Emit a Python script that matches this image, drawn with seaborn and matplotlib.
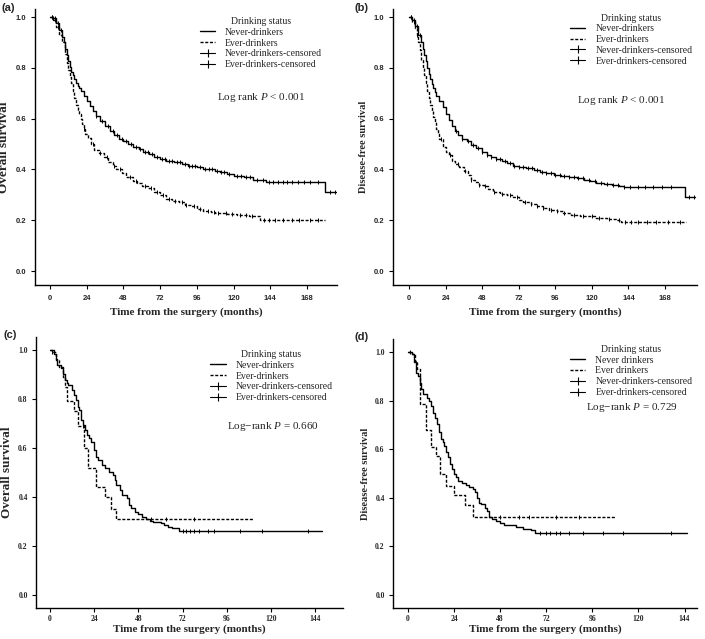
import numpy as np
import matplotlib
matplotlib.use("Agg")
import matplotlib.pyplot as plt
from matplotlib.lines import Line2D
import seaborn as sns

# ---- data (months, survival probability) ----
a_never_t = [0, 2, 4, 6, 8, 9, 10, 11, 12, 13, 14, 15, 16, 17, 18, 19, 20, 22, 24, 26, 28, 30, 33, 36, 39,
             42, 45, 48, 51, 54, 58, 61, 65, 68, 72, 76, 81, 86, 90, 96, 100, 103, 108, 111, 116, 120, 127,
             133, 141, 180, 187]
a_never_s = [1.0, 0.995, 0.975, 0.95, 0.92, 0.90, 0.875, 0.85, 0.825, 0.805, 0.785, 0.77, 0.755, 0.74, 0.73,
             0.72, 0.71, 0.69, 0.67, 0.65, 0.63, 0.61, 0.59, 0.57, 0.55, 0.535, 0.52, 0.51, 0.50, 0.49, 0.48,
             0.47, 0.46, 0.45, 0.44, 0.435, 0.43, 0.42, 0.415, 0.408, 0.403, 0.40, 0.395, 0.39, 0.382, 0.374,
             0.37, 0.36, 0.35, 0.31, 0.31]
a_ever_t = [0, 2, 4, 6, 8, 10, 11, 12, 13, 14, 15, 16, 17, 18, 19, 20, 21, 22, 23, 25, 27, 29, 32, 35, 38,
            41, 43, 47, 50, 54, 57, 60, 64, 68, 72, 76, 80, 84, 88, 92, 96, 100, 105, 108, 116, 122, 130, 137,
            180]
a_ever_s = [1.0, 0.99, 0.96, 0.93, 0.90, 0.855, 0.82, 0.79, 0.765, 0.74, 0.71, 0.68, 0.655, 0.635, 0.62,
            0.60, 0.58, 0.56, 0.54, 0.525, 0.50, 0.476, 0.465, 0.45, 0.43, 0.415, 0.40, 0.385, 0.372, 0.355,
            0.345, 0.335, 0.325, 0.312, 0.30, 0.285, 0.275, 0.27, 0.26, 0.255, 0.246, 0.237, 0.232, 0.227,
            0.225, 0.22, 0.216, 0.20, 0.20]
a_never_cens = [1, 2, 3, 5, 7, 30, 34, 38, 41, 44, 47, 50, 53, 56, 59, 62, 64, 67, 70, 73, 75, 78, 80, 83,
                85, 88, 91, 93, 95, 98, 101, 104, 106, 109, 112, 114, 117, 122, 125, 128, 131, 135, 139, 143,
                146, 149, 152, 155, 158, 162, 166, 170, 175, 183, 186]
a_ever_cens = [1, 3, 5, 22, 28, 33, 37, 42, 46, 52, 56, 62, 66, 70, 74, 78, 82, 86, 89, 94, 98, 103, 107,
               110, 115, 119, 124, 128, 132, 140, 143, 147, 152, 158, 163, 170, 175]

b_never_t = [0, 2, 4, 6, 8, 9, 10, 11, 12, 13, 14, 15, 16, 17, 18, 20, 22, 24, 26, 28, 30, 32, 35, 38, 41,
             44, 48, 51, 54, 57, 61, 64, 68, 72, 77, 82, 86, 90, 95, 100, 105, 110, 115, 119, 123, 128, 133,
             138, 141, 181, 188]
b_never_s = [1.0, 0.99, 0.965, 0.93, 0.90, 0.875, 0.85, 0.825, 0.80, 0.775, 0.755, 0.735, 0.72, 0.705, 0.69,
             0.67, 0.645, 0.62, 0.595, 0.57, 0.55, 0.535, 0.52, 0.51, 0.495, 0.483, 0.468, 0.457, 0.45, 0.44,
             0.432, 0.424, 0.415, 0.41, 0.404, 0.397, 0.39, 0.385, 0.378, 0.375, 0.37, 0.365, 0.36, 0.355,
             0.347, 0.344, 0.34, 0.335, 0.33, 0.29, 0.29]
b_ever_t = [0, 2, 4, 5, 6, 7, 8, 9, 10, 11, 12, 13, 14, 15, 16, 17, 18, 19, 20, 22, 24, 26, 28, 30, 33, 36,
            39, 41, 43, 46, 49, 52, 55, 60, 64, 68, 72, 75, 80, 84, 88, 92, 97, 101, 106, 112, 118, 122, 130,
            136, 139, 182]
b_ever_s = [1.0, 0.98, 0.955, 0.93, 0.90, 0.87, 0.83, 0.80, 0.77, 0.74, 0.71, 0.68, 0.655, 0.63, 0.605,
            0.585, 0.56, 0.54, 0.52, 0.49, 0.47, 0.455, 0.435, 0.42, 0.41, 0.395, 0.38, 0.36, 0.35, 0.34,
            0.335, 0.322, 0.31, 0.302, 0.298, 0.29, 0.28, 0.272, 0.262, 0.255, 0.25, 0.242, 0.235, 0.227,
            0.22, 0.218, 0.215, 0.208, 0.205, 0.20, 0.193, 0.193]
b_never_cens = [1, 2, 3, 5, 7, 31, 35, 39, 42, 45, 48, 51, 54, 57, 60, 63, 66, 69, 72, 75, 78, 81, 84, 87,
                90, 93, 96, 99, 102, 105, 108, 111, 114, 118, 122, 126, 130, 134, 137, 141, 145, 150, 155,
                160, 166, 172, 184, 187]
b_ever_cens = [1, 3, 5, 21, 27, 32, 37, 41, 46, 50, 56, 61, 66, 71, 76, 80, 84, 88, 93, 97, 102, 108, 114,
               120, 125, 131, 138, 142, 146, 150, 156, 162, 170, 178]

c_never_t = [0, 2, 3, 4, 6, 7, 8, 9, 10, 12, 13, 14, 15, 16, 17, 18, 19, 20, 21, 22, 24, 25, 26, 28, 30,
             32, 34, 35, 36, 38, 39, 42, 43, 44, 46, 48, 50, 52, 54, 56, 60, 62, 64, 66, 70, 147.5]
c_never_s = [1.0, 0.985, 0.965, 0.94, 0.925, 0.90, 0.877, 0.867, 0.857, 0.837, 0.816, 0.796, 0.769, 0.755,
             0.714, 0.694, 0.673, 0.653, 0.64, 0.626, 0.592, 0.565, 0.55, 0.53, 0.517, 0.503, 0.49, 0.469,
             0.449, 0.43, 0.408, 0.395, 0.367, 0.354, 0.34, 0.33, 0.32, 0.309, 0.303, 0.298, 0.293, 0.285,
             0.279, 0.272, 0.263, 0.263]
c_ever_t = [0, 1, 3, 5, 7, 8, 9, 13, 15, 18.5, 20.5, 25, 30, 33, 36, 110]
c_ever_s = [1.0, 0.99, 0.96, 0.93, 0.89, 0.85, 0.79, 0.75, 0.69, 0.60, 0.52, 0.44, 0.40, 0.35, 0.31, 0.31]
c_never_cens = [72, 74, 76, 78, 81, 86, 89, 103, 115, 140]
c_ever_cens = [1, 18, 55, 63, 78]

d_never_t = [0, 2, 3, 4, 5, 6, 7, 8, 10, 11, 12, 13, 14, 15, 16, 17, 18, 19, 20, 21, 22, 23, 24, 25, 26,
             28, 30, 32, 34, 35, 36, 37, 38, 40, 41, 42, 44, 46, 48, 50, 56, 60, 64, 66, 145.5]
d_never_s = [1.0, 0.99, 0.96, 0.914, 0.90, 0.873, 0.846, 0.825, 0.81, 0.80, 0.778, 0.75, 0.73, 0.703, 0.67,
             0.64, 0.628, 0.614, 0.587, 0.566, 0.539, 0.518, 0.498, 0.484, 0.47, 0.46, 0.454, 0.446, 0.437,
             0.423, 0.40, 0.38, 0.375, 0.36, 0.344, 0.323, 0.314, 0.304, 0.296, 0.289, 0.28, 0.273, 0.266,
             0.256, 0.256]
d_ever_t = [0, 2, 3.5, 4.9, 6.4, 9.2, 11.8, 14.4, 16.8, 20, 24, 29.5, 33.8, 107.6]
d_ever_s = [1.0, 0.99, 0.964, 0.93, 0.785, 0.68, 0.607, 0.57, 0.50, 0.45, 0.41, 0.37, 0.32, 0.32]
d_never_cens = [69, 72, 74, 77, 79, 84, 91, 101.5, 112, 137]
d_ever_cens = [1, 48, 58, 63, 77, 89]

panels = [
    dict(tag="(a)", never=(a_never_t, a_never_s, a_never_cens), ever=(a_ever_t, a_ever_s, a_ever_cens),
         ylabel="Overall survival", ysize=9.5, xmax=168, xlim=(-9.8, 187.6), ylim=(-0.055, 1.03),
         pos=[35, 9.4, 337, 285], labels=["Never-drinkers", "Ever-drinkers"], leg=(0.546, 0.972),
         pval="Log rank", pnum=" < 0.001", ptxt=(0.603, 0.682), tickfont="Liberation Sans", pads=(4, 4)),
    dict(tag="(b)", never=(b_never_t, b_never_s, b_never_cens), ever=(b_ever_t, b_ever_s, b_ever_cens),
         ylabel="Disease-free survival", ysize=7.5, xmax=168, xlim=(-10.5, 189), ylim=(-0.055, 1.03),
         pos=[393, 9.4, 697, 285], labels=["Never-drinkers", "Ever-drinkers"], leg=(0.582, 0.985),
         pval="Log rank", pnum=" < 0.001", ptxt=(0.605, 0.671), tickfont="Liberation Sans", pads=(4, 4)),
    dict(tag="(c)", never=(c_never_t, c_never_s, c_never_cens), ever=(c_ever_t, c_ever_s, c_ever_cens),
         ylabel="Overall survival", ysize=9.5, xmax=144, xlim=(-7.6, 159), ylim=(-0.053, 1.053),
         pos=[36, 337, 343, 608], labels=["Never-drinkers", "Ever-drinkers"], leg=(0.567, 0.952),
         pval="Log\u2212rank", pnum=" = 0.660", ptxt=(0.622, 0.668), tickfont="Liberation Serif", pads=(2, 1)),
    dict(tag="(d)", never=(d_never_t, d_never_s, d_never_cens), ever=(d_ever_t, d_ever_s, d_ever_cens),
         ylabel="Disease-free survival", ysize=7.5, xmax=144, xlim=(-7.8, 150.5), ylim=(-0.053, 1.053),
         pos=[393, 339, 697, 608], labels=["Never drinkers", "Ever drinkers"], leg=(0.582, 0.978),
         pval="Log\u2212rank", pnum=" = 0.729", ptxt=(0.635, 0.747), tickfont="Liberation Serif", pads=(2, 1)),
]

W, H = 705, 639
sns.set_style("ticks")
plt.rcParams["font.family"] = ["Liberation Serif", "DejaVu Serif"]
plt.rcParams["mathtext.fontset"] = "custom"
plt.rcParams["mathtext.it"] = "Liberation Serif:italic"
plt.rcParams["mathtext.rm"] = "Liberation Serif"

fig = plt.figure(figsize=(W / 100, H / 100), dpi=100)
fig.patch.set_facecolor("white")

SERIF = "Liberation Serif"
dash = (0, (2.2, 1.2))


def step_value(t, s, x):
    i = np.searchsorted(t, x, side="right") - 1
    return np.asarray(s)[i]


for p in panels:
    x0, y0, x1, y1 = p["pos"]
    ax = fig.add_axes([x0 / W, 1 - y1 / H, (x1 - x0) / W, (y1 - y0) / H])
    ax.set_facecolor("white")

    for key, ls in (("never", "-"), ("ever", dash)):
        t, s, cens = p[key]
        sns.lineplot(x=t, y=s, ax=ax, color="black", linewidth=1.0, linestyle=ls,
                     drawstyle="steps-post", estimator=None, sort=False)
        cy = step_value(np.asarray(t), s, np.asarray(cens))
        sns.scatterplot(x=cens, y=cy, ax=ax, marker="|", s=11, color="black", linewidth=0.7, zorder=3)

    ax.set_xlim(*p["xlim"])
    ax.set_ylim(*p["ylim"])
    ax.set_xticks(np.arange(0, p["xmax"] + 1, 24))
    ax.set_yticks([0.0, 0.2, 0.4, 0.6, 0.8, 1.0])
    ax.set_yticklabels(["0.0", "0.2", "0.4", "0.6", "0.8", "1.0"])
    for lab in ax.get_xticklabels() + ax.get_yticklabels():
        lab.set_fontfamily(p["tickfont"])
        lab.set_fontweight("bold")
        lab.set_fontsize(5.5)
    ax.tick_params(direction="out", length=3, width=0.8, color="black")
    ax.tick_params(axis="x", pad=p["pads"][0])
    ax.tick_params(axis="y", pad=3)
    sns.despine(ax=ax)
    for side in ("left", "bottom"):
        ax.spines[side].set_linewidth(1.0)
        ax.spines[side].set_color("black")

    ax.set_xlabel("Time from the surgery (months)", fontfamily=SERIF, fontweight="bold",
                  fontsize=8, labelpad=p["pads"][1])
    ax.set_ylabel(p["ylabel"], fontfamily=SERIF, fontweight="bold", fontsize=p["ysize"], labelpad=4)

    handles = [
        Line2D([], [], color="black", lw=1.0, ls="-"),
        Line2D([], [], color="black", lw=1.0, ls=dash),
        Line2D([], [], color="black", lw=0.8, ls="-", marker="|", markersize=6, markeredgewidth=0.8),
        Line2D([], [], color="black", lw=0.8, ls="-", marker="|", markersize=6, markeredgewidth=0.8),
    ]
    labels = p["labels"] + ["Never-drinkers-censored", "Ever-drinkers-censored"]
    leg = ax.legend(handles, labels, title="Drinking status", loc="upper left",
                    bbox_to_anchor=p["leg"], frameon=False, borderpad=0, borderaxespad=0,
                    handlelength=1.6, handletextpad=1.0, labelspacing=0.18,
                    prop={"family": SERIF, "size": 7})
    leg.get_title().set_fontfamily(SERIF)
    leg.get_title().set_fontsize(7)

    ax.text(p["ptxt"][0], p["ptxt"][1], p["pval"] + r" $P$" + p["pnum"], transform=ax.transAxes,
            fontfamily=SERIF, fontsize=8, va="center", ha="left")

    fig.text((x0 - 33) / W if x0 < 100 else (x0 - 38) / W, 1 - (y0 - 2) / H if y0 > 100 else 1 - 8 / H,
             p["tag"], fontfamily="Liberation Sans", fontweight="bold", fontsize=8, va="center", ha="left")

fig.savefig("out.png", dpi=100, facecolor="white")
